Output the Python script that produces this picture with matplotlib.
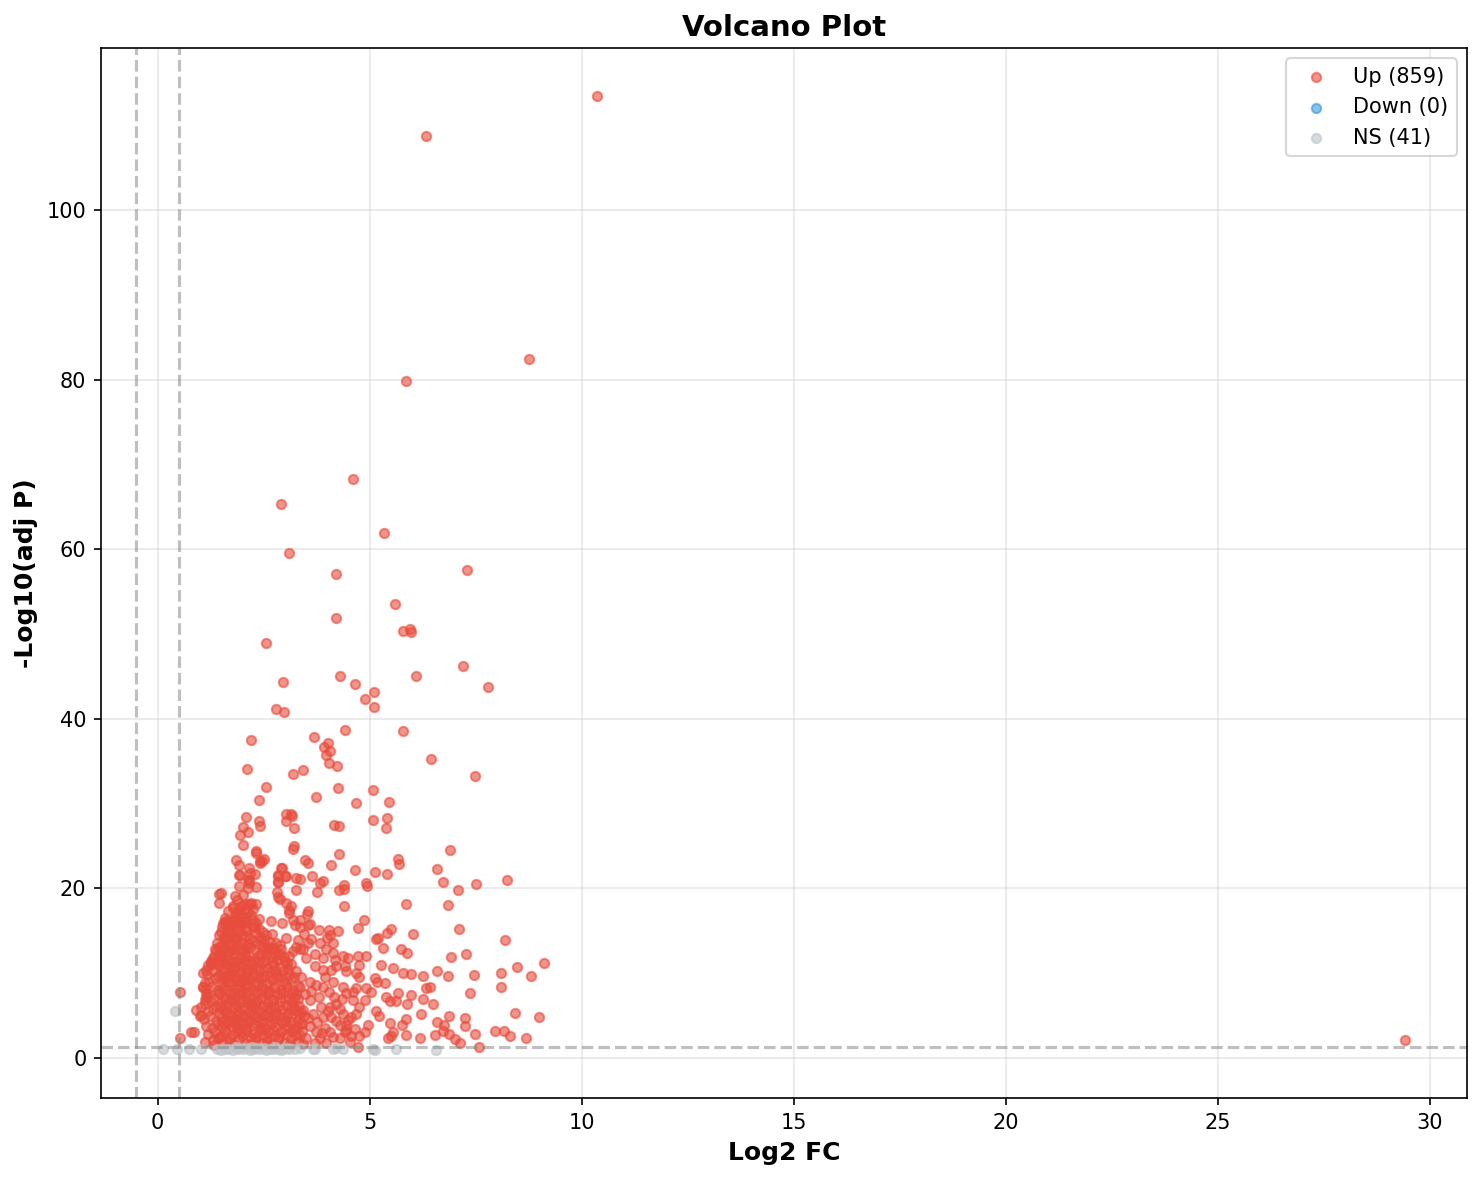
import matplotlib
matplotlib.use("Agg")
import matplotlib.pyplot as plt
import numpy as np

# ---------------- data ----------------
# Up-regulated: sparse high-significance genes
up_top = [(10.35,113.5),(6.33,108.7),(8.75,82.5),(5.85,79.8),(4.6,68.3),(2.9,65.3),(5.35,61.9),
          (3.1,59.6),(4.2,57.1),(7.3,57.5),(5.6,53.6),(4.2,51.9),(5.78,50.4),(5.95,50.6),(5.97,50.2),
          (2.55,49.0),(7.2,46.2),(6.1,45.1),(4.3,45.0),(2.95,44.3),(4.65,44.1),(7.8,43.8),(5.1,43.2),
          (4.9,42.3),(5.1,41.4),(2.8,41.1),(2.97,40.8)]

up_mid = [(2.21,37.5),(3.68,37.8),(4.43,38.7),(5.78,38.6),(4.01,37.2),(3.92,36.7),(4.06,36.2),(3.96,35.7),
          (4.04,34.8),(4.22,34.4),(6.44,35.3),(7.48,33.2),(2.11,34.1),(3.19,33.5),(3.43,34.0),(2.55,31.9),
          (2.38,30.4),(3.73,30.8),(4.25,31.8),(5.07,31.6),(4.69,30.1),(5.45,30.2),(2.08,28.4),(2.39,28.0),
          (2.41,27.4),(2.01,27.2),(1.95,26.3),(2.14,26.7),(2.01,25.1),(3.03,28.8),(3.15,28.8),(3.02,28.0),
          (3.18,28.5),(3.22,27.1),(4.15,27.5),(4.28,27.4),(5.07,28.1),(5.41,28.3),(5.39,27.1),(3.21,25.0),
          (3.19,24.6),(2.33,24.4),(2.31,24.2),(2.50,23.5),(2.41,23.2),(1.86,23.3),(1.92,22.8),(2.15,22.4),
          (2.30,21.7),(1.95,21.6),(2.15,21.0),(2.15,20.6),(2.92,22.4),(3.00,21.5),(2.83,21.4),(2.83,20.8),
          (3.47,23.4),(3.55,23.0),(3.35,21.1),(3.64,21.5),(3.90,20.9),(3.84,20.6),(4.28,24.0),(4.09,22.7),
          (4.65,22.2),(5.12,21.9),(5.41,21.7),(5.66,23.5),(5.69,22.9),(4.92,20.6),(4.39,20.4)]

up_upper_blob = [(2.17,21.8),(2.13,21.0),(1.93,21.6),(2.41,23.0),(2.47,23.2),(2.94,22.4),(2.84,21.6),
          (3.02,21.4),(2.84,20.7),(2.81,19.6),(3.27,21.2),(3.27,19.8),(1.92,20.3),(2.13,20.0),(2.33,20.2),
          (1.50,19.4),(1.44,19.3),(1.45,18.3),(1.82,19.1),(2.01,19.2),(2.17,18.1),(2.31,18.1),(2.88,18.7),
          (3.03,18.3),(3.10,17.5),(3.15,17.9),(1.78,17.7),(1.86,17.1),(1.93,16.7),(1.70,15.9),(1.58,16.0),
          (2.05,17.5),(2.09,16.1),(2.25,16.3),(2.33,15.9),(2.29,15.5),(2.68,16.1),(2.94,15.9),(3.19,16.3),
          (3.25,15.7),(2.48,14.9),(2.55,14.5),(2.45,13.9),(2.64,13.7),(2.60,13.1),(2.72,13.0),(3.03,14.1),
          (3.31,13.9),(3.35,12.8),(1.38,12.6),(1.34,12.0),(1.50,12.0),(3.11,12.0),(2.88,12.2),
          (1.87,18.6),(1.97,17.9),(2.09,18.1),(2.21,18.3),(2.84,19.0),(3.11,17.1),(1.62,16.1),(1.54,15.9),
          (1.50,14.9),(1.58,14.3),(1.46,13.1),(1.27,11.4),(1.15,10.4),(1.07,10.0),(1.11,8.8),(1.07,8.4),
          (1.15,7.6),(1.03,6.0),(0.91,5.7),(0.99,4.9),(1.03,5.1),(0.54,7.8),(0.54,2.4),(0.79,3.1),(0.87,3.0),
          (1.19,11.0),(1.27,11.2),(1.08,8.4),(1.11,6.8),(1.15,7.2),(1.11,1.9),(1.30,2.1),(1.42,2.3),(1.34,1.5)]

# Dense core of the blob (rows read band by band)
up_core = [
    (1.55,1.7),(1.68,2.0),(1.80,1.6),(1.93,2.2),(2.05,1.8),(2.18,1.6),(2.30,2.1),(2.44,1.7),(2.57,2.0),
    (2.70,1.6),(2.85,2.2),(2.98,1.8),(3.12,1.6),(3.30,2.0),
    (1.20,2.8),(1.36,3.1),(1.50,2.6),(1.62,3.0),(1.75,2.7),(1.88,3.2),(2.00,2.6),(2.12,3.0),(2.25,2.8),
    (2.38,3.2),(2.50,2.6),(2.63,3.0),(2.77,2.7),(2.90,3.1),(3.04,2.8),(3.18,3.2),(3.36,2.7),
    (1.15,3.8),(1.28,3.5),(1.40,4.0),(1.53,3.6),(1.66,4.1),(1.78,3.7),(1.90,3.5),(2.02,4.0),(2.15,3.6),
    (2.28,4.1),(2.41,3.7),(2.54,3.5),(2.67,4.0),(2.80,3.6),(2.94,4.1),(3.08,3.7),(3.22,3.5),(3.40,4.0),
    (1.10,4.6),(1.24,4.9),(1.37,4.4),(1.49,4.8),(1.61,4.5),(1.73,5.0),(1.85,4.6),(1.97,4.4),(2.09,4.9),
    (2.21,4.5),(2.34,4.8),(2.47,4.4),(2.60,5.0),(2.73,4.6),(2.87,4.9),(3.00,4.4),(3.14,4.8),(3.30,4.5),(3.46,4.9),
    (1.18,5.5),(1.31,5.8),(1.44,5.3),(1.56,5.7),(1.68,5.2),(1.80,5.9),(1.92,5.4),(2.04,5.7),(2.16,5.3),
    (2.28,5.8),(2.40,5.5),(2.53,5.2),(2.66,5.8),(2.79,5.4),(2.93,5.7),(3.07,5.3),(3.21,5.9),(3.38,5.4),
    (1.12,6.4),(1.25,6.7),(1.38,6.1),(1.50,6.6),(1.62,6.2),(1.74,6.8),(1.86,6.3),(1.98,6.0),(2.10,6.6),
    (2.22,6.2),(2.35,6.7),(2.48,6.1),(2.61,6.5),(2.74,6.0),(2.88,6.7),(3.02,6.2),(3.16,6.6),(3.33,6.1),
    (1.20,7.3),(1.33,7.0),(1.46,7.6),(1.58,7.1),(1.70,7.5),(1.82,7.0),(1.94,7.7),(2.06,7.2),(2.18,6.9),
    (2.30,7.5),(2.43,7.1),(2.56,7.6),(2.69,7.0),(2.82,7.4),(2.96,7.7),(3.10,7.1),(3.26,7.5),
    (1.14,8.1),(1.27,8.4),(1.40,7.9),(1.52,8.5),(1.64,8.0),(1.76,8.6),(1.88,8.2),(2.00,7.8),(2.12,8.4),
    (2.24,8.0),(2.37,8.6),(2.50,8.1),(2.63,7.9),(2.76,8.5),(2.90,8.0),(3.04,8.4),(3.20,8.0),
    (1.22,9.0),(1.35,9.4),(1.47,8.8),(1.59,9.3),(1.71,8.9),(1.83,9.5),(1.95,9.0),(2.07,8.7),(2.19,9.3),
    (2.31,8.9),(2.44,9.4),(2.57,8.8),(2.70,9.2),(2.84,9.5),(2.98,8.9),(3.14,9.3),
    (1.16,9.9),(1.29,10.3),(1.42,9.7),(1.54,10.2),(1.66,9.8),(1.78,10.4),(1.90,9.9),(2.02,9.6),(2.14,10.2),
    (2.26,9.8),(2.39,10.3),(2.52,9.7),(2.66,10.1),(2.80,9.8),(2.95,10.3),(3.10,9.9),
    (1.25,10.9),(1.38,11.2),(1.50,10.6),(1.62,11.1),(1.74,10.7),(1.86,11.3),(1.98,10.8),(2.10,10.5),
    (2.22,11.1),(2.34,10.7),(2.47,11.2),(2.60,10.6),(2.74,11.0),(2.89,10.7),(3.04,11.2),
    (1.30,11.8),(1.43,11.5),(1.55,12.1),(1.67,11.6),(1.79,12.2),(1.91,11.7),(2.03,11.4),(2.15,12.0),
    (2.27,11.6),(2.40,12.1),(2.53,11.5),(2.67,11.9),(2.82,11.5),(2.97,11.9),
    (1.35,12.9),(1.47,12.4),(1.59,13.0),(1.71,12.6),(1.83,12.3),(1.95,12.9),(2.07,12.5),(2.19,13.1),
    (2.31,12.7),(2.44,12.3),(2.58,12.8),(2.75,12.4),(2.92,12.9),
    (1.40,13.6),(1.52,13.3),(1.64,13.9),(1.76,13.4),(1.88,14.0),(2.00,13.5),(2.12,13.2),(2.24,13.8),
    (2.36,13.4),(2.50,13.9),(2.80,13.5),
    (1.45,14.5),(1.57,14.2),(1.69,14.8),(1.81,14.3),(1.93,14.9),(2.05,14.4),(2.17,14.1),(2.29,14.7),
    (2.41,14.3),(2.70,14.6),
    (1.52,15.4),(1.64,15.1),(1.76,15.7),(1.88,15.2),(2.00,15.8),(2.12,15.0),(2.24,15.5),(2.38,15.2),
    (1.60,16.5),(1.72,16.2),(1.84,16.8),(1.96,16.0),(2.08,16.6),(2.20,16.9),(2.40,16.4),
    (1.66,17.3),(1.78,17.9),(1.90,17.4),(2.02,18.0),(2.14,17.2),(2.26,17.6),
    # second pass over the darkest part
    (1.46,2.5),(1.58,3.4),(1.70,2.4),(1.84,3.9),(1.96,2.9),(2.08,3.4),(2.20,2.4),(1.52,4.2),(1.64,5.4),
    (1.76,4.3),(1.88,5.1),(2.00,5.0),(2.12,4.2),(2.24,5.1),(1.48,6.0),(1.60,6.9),(1.72,6.1),(1.84,7.3),
    (1.96,6.6),(2.08,7.7),(2.20,6.5),(1.44,7.7),(1.56,8.2),(1.68,8.9),(1.80,7.7),(1.92,8.6),(2.04,9.3),
    (2.16,8.6),(1.50,9.8),(1.62,9.6),(1.74,10.0),(1.86,9.2),(1.98,10.1),(2.10,9.4),(2.22,10.5),(1.46,10.9),
    (1.58,11.6),(1.70,11.2),(1.82,10.6),(1.94,11.2),(2.06,12.0),(2.18,11.4),(1.54,12.7),(1.66,13.3),
    (1.78,12.8),(1.90,13.3),(2.02,12.7),(2.14,13.6),(1.60,14.1),(1.72,14.6),(1.84,14.0),(1.96,14.5),
    (2.08,15.3),(1.68,15.6),(1.80,16.3),(1.92,15.6),(2.04,16.2),
    # second pass over the right half of the blob
    (2.33,2.5),(2.46,3.4),(2.59,2.4),(2.72,3.3),(2.86,2.5),(3.00,3.4),(3.14,2.4),(3.28,3.6),
    (2.36,4.3),(2.49,5.0),(2.62,4.3),(2.76,5.1),(2.90,4.3),(3.04,5.0),(3.18,4.2),(3.34,5.2),
    (2.32,6.0),(2.45,6.9),(2.58,6.0),(2.72,6.8),(2.86,6.1),(3.00,6.9),(3.14,6.0),(3.30,6.9),
    (2.34,7.8),(2.47,8.6),(2.60,7.7),(2.74,8.4),(2.88,7.7),(3.02,8.7),(3.17,7.7),(3.32,8.5),
    (2.36,9.6),(2.50,10.4),(2.64,9.5),(2.78,10.3),(2.92,9.6),(3.08,10.5),(3.22,9.5),
    (2.40,11.4),(2.55,12.2),(2.70,11.3),(2.85,12.1),(3.00,11.4),(3.15,11.1),
    (2.48,13.2),(2.65,12.9),(2.88,13.3)]

# Medium density zone right of the core
up_shoulder = [(3.27,13.1),(3.43,12.8),(3.54,13.5),(3.19,12.6),(3.51,11.8),(3.70,12.2),(3.90,11.8),(3.98,12.8),
          (4.13,12.4),(4.37,12.0),(4.49,11.8),(4.72,12.0),(4.92,12.0),(4.76,11.0),(4.69,10.0),(4.76,9.6),
          (4.41,10.8),(4.45,10.2),(3.70,10.8),(3.90,10.4),(4.10,10.4),(4.21,10.8),(3.59,9.0),(3.74,8.6),
          (3.90,8.4),(4.13,9.0),(3.27,10.2),(3.35,8.4),(3.23,7.2),(4.37,8.4),(4.45,7.6),(4.61,7.8),(4.69,8.2),
          (4.92,8.2),(5.04,7.8),(4.88,6.8),(4.76,6.0),(4.61,6.8),(4.21,6.4),(4.29,5.8),(4.06,6.0),(3.86,6.0),
          (3.59,6.8),(3.43,5.6),(3.66,5.2),(3.27,5.6),(3.90,4.8),(4.10,4.8),(4.21,4.4),(4.37,5.2),(4.57,4.8),
          (4.69,5.2),(3.35,4.0),(3.59,3.8),(3.74,3.1),(3.94,3.5),(4.06,3.1),(3.27,2.7),(3.51,2.3),(3.82,2.3),
          (4.13,2.5),(4.29,2.3),(3.43,1.6),(3.70,1.7),(3.98,1.7),(4.53,1.9),
          (3.45,14.6),(3.60,15.8),(3.52,17.0),(3.38,9.5),(3.48,7.5),(3.62,7.9),(3.80,7.2),(3.95,9.6),
          (4.05,7.8),(4.18,11.5),(3.82,13.6),(4.00,14.2),(3.62,14.0),(3.75,4.2),(3.55,4.7),(4.02,5.5),
          (4.45,3.3),(3.88,2.9),(4.35,6.9),(4.15,7.2),(3.40,3.2),
          (3.76,19.6),(4.27,19.8),(4.39,19.9),(4.94,20.3),(4.39,17.9),(5.85,18.2),(3.55,17.3),(3.35,16.3),
          (3.35,15.5),(3.54,15.7),(3.80,15.1),(4.04,15.1),(4.06,14.5),(4.25,15.0),(4.13,13.5),(4.72,15.3),
          (4.86,16.3),(5.14,14.0),(5.20,14.2),(5.41,14.7),(5.51,15.2),(6.02,14.6),(5.31,12.95),(5.75,12.8),
          (5.88,12.4),(5.54,10.6),(5.79,10.0),(5.98,9.9),(6.26,9.7),(6.32,8.3),(5.27,10.9),(5.12,9.4),
          (5.17,9.0),(5.36,8.8),(5.67,7.7),(5.88,6.4),(5.98,7.4),(6.26,6.9),(6.22,5.2),(5.86,4.6),(5.39,7.2),
          (5.47,6.7),(5.63,6.7),(5.14,5.5),(5.23,5.0),(5.47,4.1),(5.77,3.9),(5.43,2.3),(5.51,2.6),(5.55,3.0),
          (5.85,2.7),(6.18,2.3),(4.96,3.9),(4.88,3.1),(4.72,1.3),(4.41,3.0),(4.57,2.6),(4.65,3.4),(4.76,2.6),
          (4.29,3.9),(4.45,3.9),(4.49,4.5)]

# Sparse right tail
up_right = [(6.90,24.5),(6.59,22.3),(6.73,20.8),(7.51,20.5),(8.24,21.0),(7.08,19.8),(6.85,18.0),(7.11,15.2),
          (8.19,13.9),(6.91,11.9),(7.27,12.2),(6.59,10.3),(6.85,9.7),(7.45,9.8),(8.09,10.0),(8.47,10.7),
          (8.80,9.7),(9.11,11.2),(8.09,8.4),(7.36,7.6),(6.49,6.4),(6.87,5.0),(6.60,4.25),(6.75,3.9),(6.73,3.2),
          (6.53,2.7),(6.86,2.8),(7.26,4.76),(7.26,3.8),(7.01,2.2),(7.13,1.77),(7.48,2.8),(7.58,1.26),(7.96,3.2),
          (8.16,3.2),(8.31,2.6),(8.43,5.3),(8.69,2.4),(8.99,4.8),(6.42,8.4),(29.41,2.1)]

# Not significant
ns_points = [(0.13,1.0),(0.40,5.5),(0.45,1.0),(0.75,1.0),(1.03,1.05),(1.58,1.0),(1.68,1.1),(1.78,0.95),
          (1.89,1.05),(2.01,1.0),(2.10,1.15),(2.17,0.95),(2.28,1.1),(2.41,1.0),(2.50,1.2),(2.56,0.9),
          (2.65,1.05),(2.72,1.0),(2.84,1.1),(2.90,0.95),(2.96,1.05),(3.05,1.2),(3.23,1.0),(3.66,1.1),
          (3.70,1.0),(4.14,1.05),(4.20,1.2),(4.37,1.0),(5.08,1.1),(5.12,0.95),(5.61,1.0),(6.56,0.95),
          (1.40,1.1),(1.50,0.95),(1.95,1.2),(2.35,1.2),(2.78,1.25),(3.10,1.1),(2.22,1.25),(1.85,1.25),(3.35,1.15)]

legend_labels = ["Up (859)", "Down (0)", "NS (41)"]
fc_threshold = 0.5
p_threshold = 0.05

# ---------------- plot ----------------
up = np.array(up_top + up_mid + up_upper_blob + up_core + up_shoulder + up_right)
ns = np.array(ns_points)

fig = plt.figure(figsize=(1482/150, 1180/150), dpi=150)
ax = fig.add_axes([101/1482, 1 - 1098/1180, (1467-101)/1482, (1098-48)/1180])

ax.scatter(up[:, 0], up[:, 1], s=20, c="#E74C3C", alpha=0.6, label=legend_labels[0])
ax.scatter([], [], s=20, c="#3498DB", alpha=0.6, label=legend_labels[1])
ax.scatter(ns[:, 0], ns[:, 1], s=20, c="#BDC3C7", alpha=0.6, label=legend_labels[2])

ax.axhline(-np.log10(p_threshold), color="gray", linestyle="--", alpha=0.5, linewidth=1.5)
ax.axvline(fc_threshold, color="gray", linestyle="--", alpha=0.5, linewidth=1.5)
ax.axvline(-fc_threshold, color="gray", linestyle="--", alpha=0.5, linewidth=1.5)

ax.set_xlabel("Log2 FC", fontsize=12, fontweight="bold")
ax.set_ylabel("-Log10(adj P)", fontsize=12, fontweight="bold")
ax.set_title("Volcano Plot", fontsize=14, fontweight="bold")
ax.legend(loc="upper right", fontsize=10)
ax.grid(True, alpha=0.3)
ax.set_axisbelow(True)

fig.savefig("out.png", dpi=150)
